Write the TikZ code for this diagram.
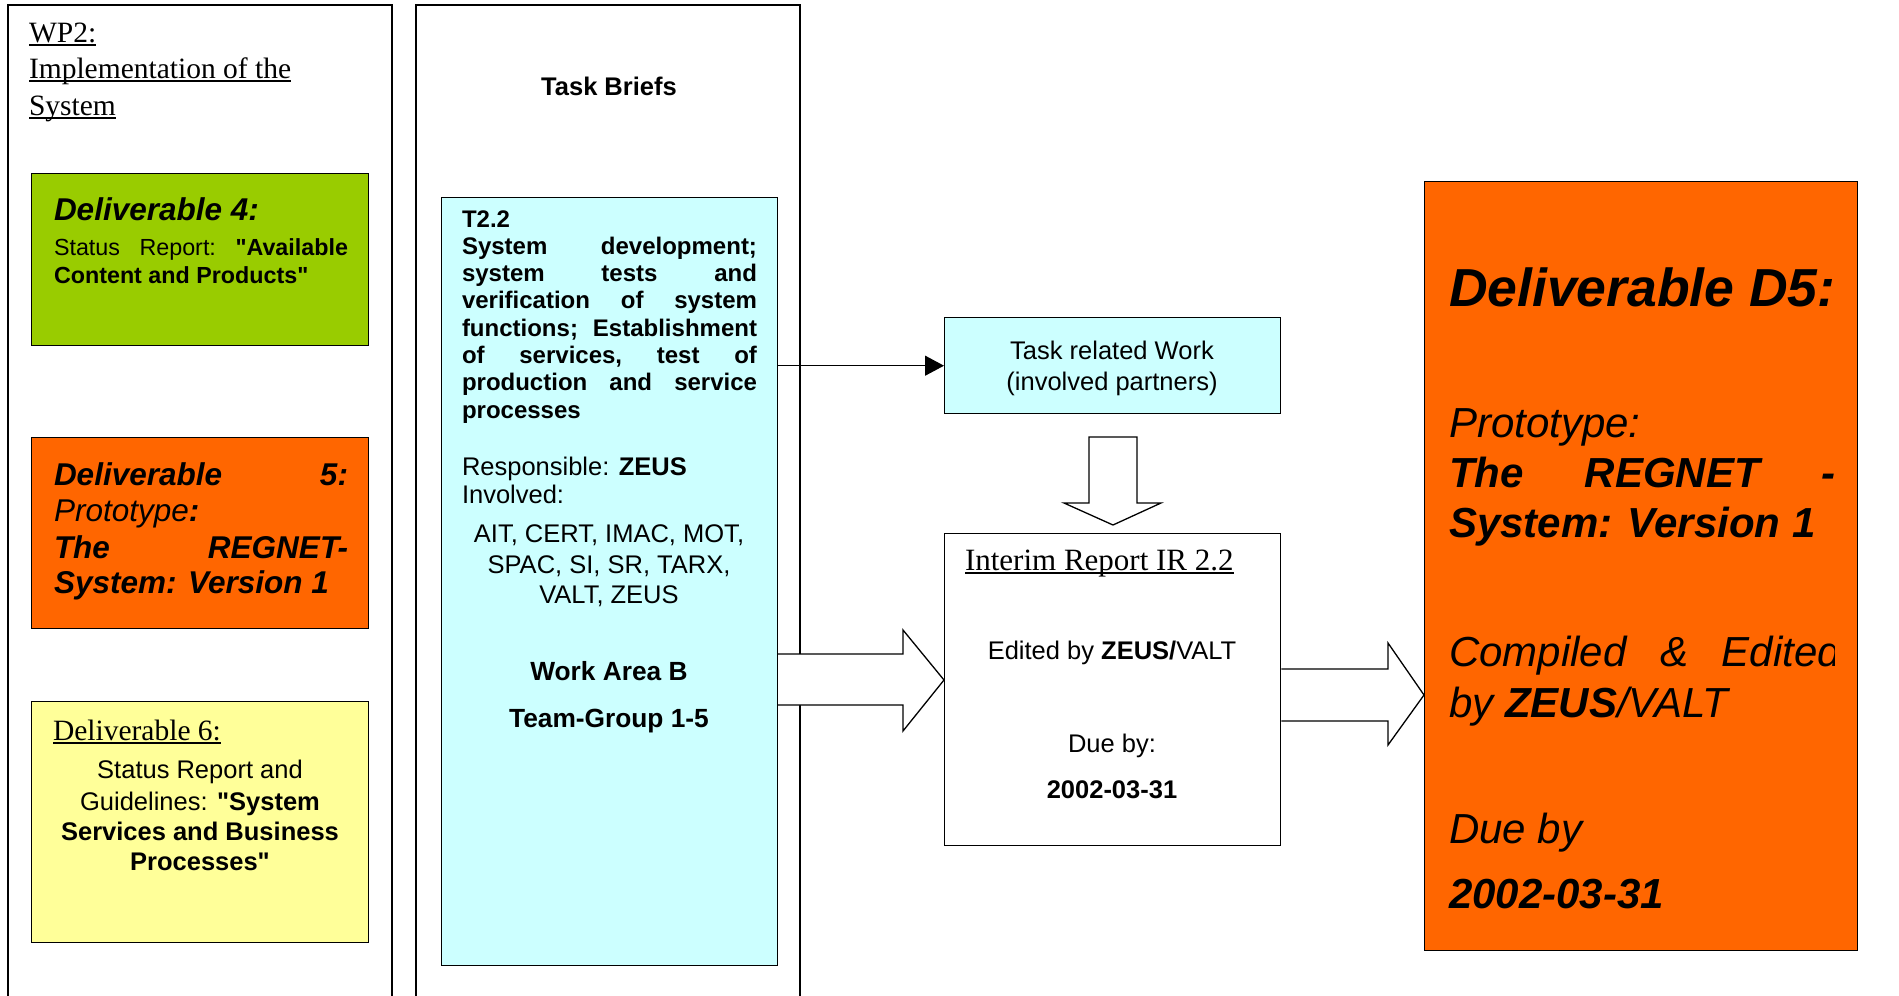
\documentclass[tikz,border=0pt]{standalone}
\usepackage{fontspec}
\setmainfont{Liberation Serif}
\newfontfamily\arial{Liberation Sans}
\usetikzlibrary{arrows.meta}
\definecolor{dgreen}{HTML}{99CC00}
\definecolor{dorange}{HTML}{FF6600}
\definecolor{dyellow}{HTML}{FFFF99}
\definecolor{dcyan}{HTML}{CCFFFF}
\newcommand\fsz[1]{\fontsize{#1}{#1}\selectfont}
\newcommand\myul[1]{\setbox0=\hbox{#1}\rlap{\rule[-0.14em]{\wd0}{0.075em}}\box0}
\begin{document}
\begin{tikzpicture}[x=1pt,y=-1pt,
  box/.style={draw=black, line width=1.4pt, rectangle, anchor=north west, inner sep=0pt},
  lt/.style={inner sep=0pt, outer sep=0pt, anchor=base west},
  ct/.style={inner sep=0pt, outer sep=0pt, anchor=base},
  panel/.style={draw=black, line width=1.5pt},
  blk/.style={draw=black, line width=1.3pt, line join=miter}]
\useasboundingbox (0,0) rectangle (1899,996);
\clip (0,0) rectangle (1899,996);
\fill[white] (0,0) rectangle (1899,996);

% panels
\draw[panel] (8,1010) -- (8,5) -- (392,5) -- (392,1010);
\draw[panel] (416,1010) -- (416,5) -- (800,5) -- (800,1010);

% left panel title
\node[lt] (wp1) at (29,42) {\fsz{29.5}\myul{WP2:}};
\node[lt] (wp2) at (29,78) {\fsz{29.5}\myul{Implementation of the}};
\node[lt] (wp3) at (29,115) {\fsz{29.5}\myul{System}};

% Deliverable 4
\node[box, fill=dgreen, minimum width=337pt, minimum height=172pt] (d4) at (31,173) {};
\node[lt] (d4a) at (54,220) {\arial\fsz{31.5}\bfseries\itshape Deliverable 4:};
\node[lt] (d4b) at (54,255) {\arial\fsz{23.3}\hbox to 294pt{Status\hfill Report:\hfill \textbf{"Available}}};
\node[lt] (d4c) at (54,283) {\arial\fsz{23.3}\bfseries Content and Products"};

% Deliverable 5 (small)
\node[box, fill=dorange, minimum width=337pt, minimum height=191pt] (d5s) at (31,437) {};
\node[lt] (d5a) at (54,485) {\arial\fsz{31.5}\bfseries\itshape\hbox to 294pt{Deliverable\hfill 5:}};
\node[lt] (d5b) at (54,521) {\arial\fsz{31.5}\itshape Prototype\textbf{:}};
\node[lt] (d5c) at (54,558) {\arial\fsz{31.5}\bfseries\itshape\hbox to 294pt{The\hfill REGNET-}};
\node[lt] (d5d) at (54,593) {\arial\fsz{31.5}\bfseries\itshape System: Version 1};

% Deliverable 6
\node[box, fill=dyellow, minimum width=337pt, minimum height=241pt] (d6) at (31,701) {};
\node[lt] (d6a) at (53,740) {\fsz{29.5}\myul{Deliverable 6:}};
\node[ct] (d6b) at (200,778) {\arial\fsz{25.5}Status Report and};
\node[ct] (d6c) at (200,810) {\arial\fsz{25.5}Guidelines: \textbf{"System}};
\node[ct] (d6d) at (200,840) {\arial\fsz{25.5}\bfseries Services and Business};
\node[ct] (d6e) at (200,870) {\arial\fsz{25.5}\bfseries Processes"};

% middle panel
\node[ct] (tb) at (609,95) {\arial\fsz{25.5}\bfseries Task Briefs};
\node[box, fill=dcyan, minimum width=336pt, minimum height=768pt] (t22) at (441,197) {};
\node[lt] (l1) at (462,227) {\arial\fsz{24}\bfseries T2.2};
\node[lt] (l2) at (462,254.3) {\arial\fsz{24}\bfseries\hbox to 295pt{System\hfill development;}};
\node[lt] (l3) at (462,281.6) {\arial\fsz{24}\bfseries\hbox to 295pt{system\hfill tests\hfill and}};
\node[lt] (l4) at (462,308.9) {\arial\fsz{24}\bfseries\hbox to 295pt{verification\hfill of\hfill system}};
\node[lt] (l5) at (462,336.2) {\arial\fsz{24}\bfseries\hbox to 295pt{functions;\hfill Establishment}};
\node[lt] (l6) at (462,363.5) {\arial\fsz{24}\bfseries\hbox to 295pt{of\hfill services,\hfill test\hfill of}};
\node[lt] (l7) at (462,390.8) {\arial\fsz{24}\bfseries\hbox to 295pt{production\hfill and\hfill service}};
\node[lt] (l8) at (462,418.1) {\arial\fsz{24}\bfseries processes};
\node[lt] (r1) at (462,475) {\arial\fsz{25.5}Responsible: \textbf{ZEUS}};
\node[lt] (r2) at (462,503) {\arial\fsz{25.5}Involved:};
\node[ct] (p1) at (609,542) {\arial\fsz{25.5}AIT, CERT, IMAC, MOT,};
\node[ct] (p2) at (609,573) {\arial\fsz{25.5}SPAC, SI, SR, TARX,};
\node[ct] (p3) at (609,603) {\arial\fsz{25.5}VALT, ZEUS};
\node[ct] (wa) at (609,680) {\arial\fsz{26.3}\bfseries Work Area B};
\node[ct] (tg) at (609,727) {\arial\fsz{26.3}\bfseries Team-Group 1-5};

% task related work
\node[box, fill=dcyan, minimum width=336pt, minimum height=96pt] (tw) at (944,317) {};
\node[ct] (tw1) at (1112,359) {\arial\fsz{25.5}Task related Work};
\node[ct] (tw2) at (1112,390) {\arial\fsz{25.5}(involved partners)};
\draw[line width=1.3pt, -{Triangle[length=19pt,width=20pt]}] (t22.east |- tw.west) -- (tw.west);

% interim report
\node[box, fill=white, minimum width=336pt, minimum height=312pt] (ir) at (944,533) {};
\node[lt] (ir1) at (965,570) {\fsz{31}\myul{Interim Report IR 2.2}};
\node[ct] (ir2) at (1112,659) {\arial\fsz{25.5}Edited by \textbf{ZEUS/}VALT};
\node[ct] (ir3) at (1112,752) {\arial\fsz{25.5}Due by:};
\node[ct] (ir4) at (1112,798) {\arial\fsz{25.5}\bfseries 2002-03-31};

% down block arrow
\draw[blk, fill=white] (1089,437) -- (1137,437) -- (1137,503) -- (1161,503) -- (1113,525) -- (1064,503) -- (1089,503) -- cycle;

% block arrow cyan -> interim
\fill[white] (778.5,654) -- (903,654) -- (903,630) -- (944,680) -- (903,731) -- (903,705) -- (778.5,705) -- cycle;
\draw[blk] (777,654) -- (903,654) -- (903,630) -- (944,680) -- (903,731) -- (903,705) -- (777,705);

% D5 box
\node[box, fill=dorange, minimum width=433pt, minimum height=769pt] (d5) at (1424,181) {};
\node[lt] (e1) at (1449,306) {\arial\fsz{53.5}\bfseries\itshape Deliverable D5:};
\node[lt] (e2) at (1449,437) {\arial\fsz{42}\itshape Prototype:};
\node[lt] (e3) at (1449,487) {\arial\fsz{42}\bfseries\itshape\hbox to 386pt{The\hfill REGNET\hfill -}};
\node[lt] (e4) at (1449,537) {\arial\fsz{42}\bfseries\itshape System: Version 1};
\begin{scope}
\clip (1440,600) rectangle (1834,700);
\node[lt] (e5) at (1449,666) {\arial\fsz{42}\itshape\hbox to 392pt{Compiled\hfill \&\hfill Edited}};
\end{scope}
\node[lt] (e6) at (1449,717) {\arial\fsz{42}\itshape by \textbf{ZEUS}/VALT};
\node[lt] (e7) at (1449,843) {\arial\fsz{42}\itshape Due by};
\node[lt] (e8) at (1449,908) {\arial\fsz{42}\bfseries\itshape 2002-03-31};

% block arrow interim -> D5
\fill[white] (1281,669) -- (1388,669) -- (1388,643) -- (1424,695) -- (1388,745) -- (1388,721) -- (1281,721) -- cycle;
\draw[blk] (ir.east |- 0,669) -- (1388,669) -- (1388,643) -- (d5.west |- 0,695) -- (1388,745) -- (1388,721) -- (ir.east |- 0,721);
\end{tikzpicture}
\end{document}
